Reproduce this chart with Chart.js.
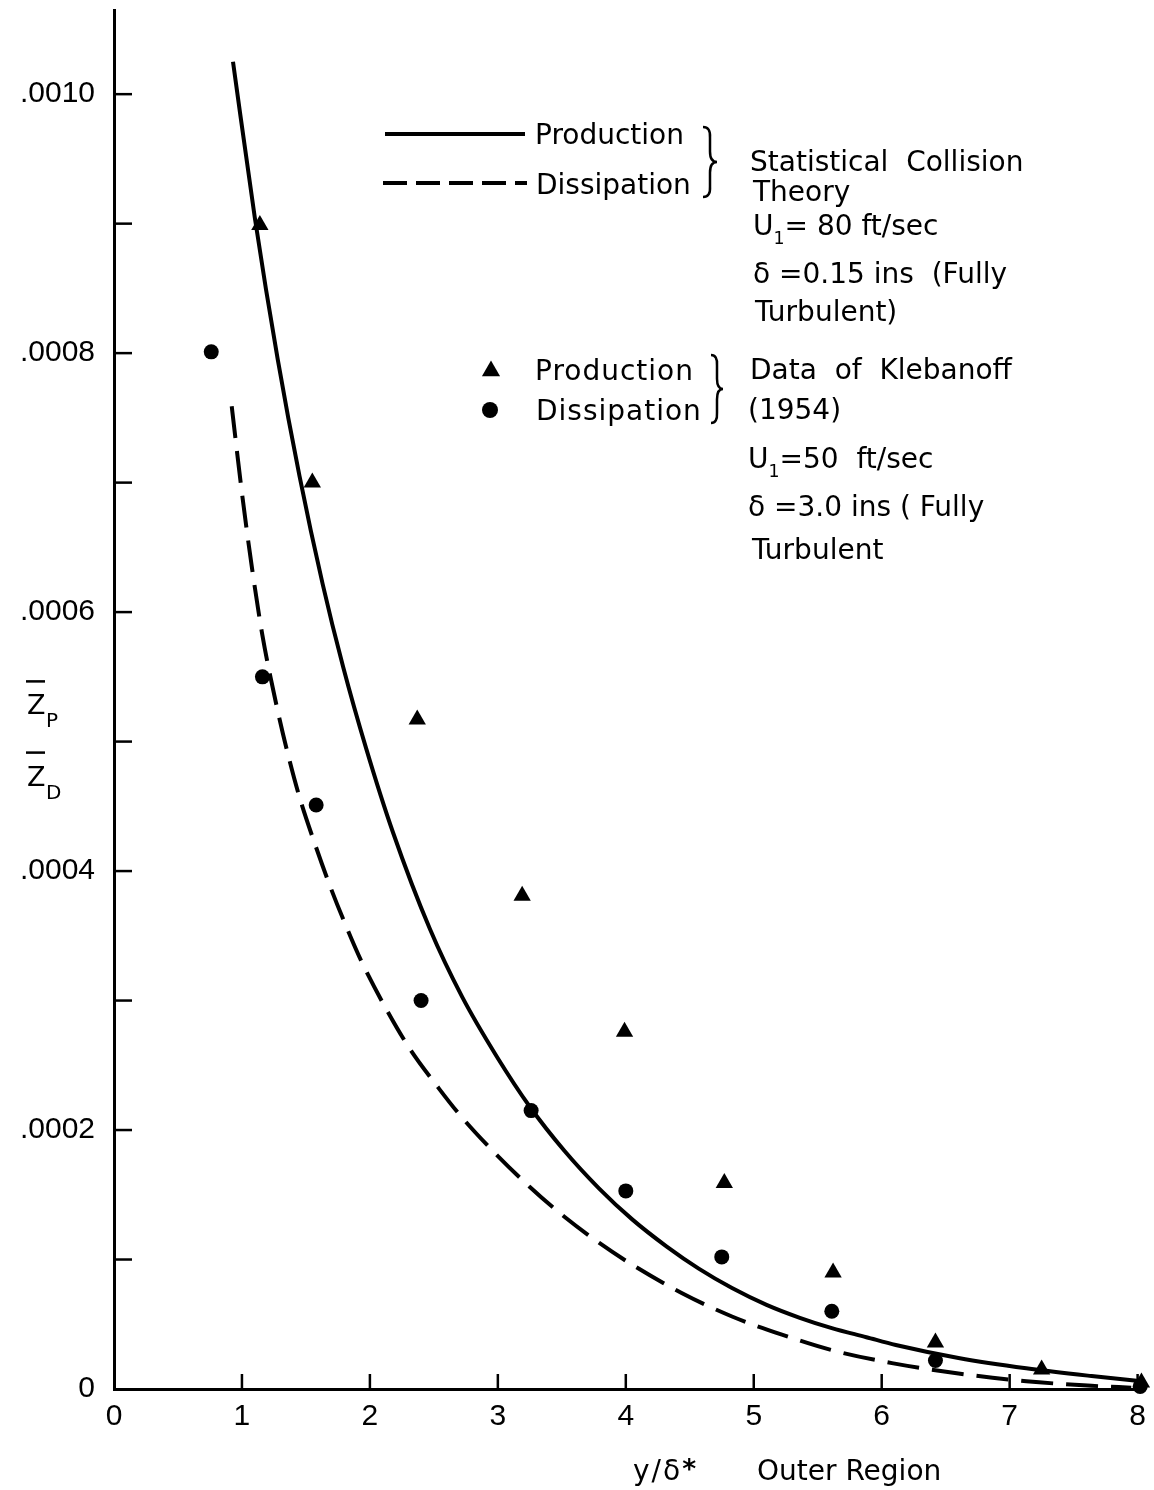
<!DOCTYPE html>
<html>
<head>
<meta charset="utf-8">
<script src="https://cdn.jsdelivr.net/npm/chart.js@4.4.1/dist/chart.umd.min.js"></script>
<style>
  html, body { margin: 0; padding: 0; background: #fff; }
  #grafico { display: block; background: #fff; }
</style>
</head>
<body>
<canvas id="grafico" width="1154" height="1490"></canvas>
<script>
// Datos de Klebanoff (1954): produccion (triangulos) y disipacion (circulos)
const prodDatosX = [1.14, 1.55, 2.37, 3.19, 3.99, 4.77, 5.62, 6.42, 7.25, 8.03];
const prodDatosY = [0.000899, 0.000700, 0.000517, 0.000381, 0.000276, 0.000159, 0.000090, 0.000036, 0.000015, 0.000005];
const disDatosX = [0.76, 1.16, 1.58, 2.40, 3.26, 4.00, 4.75, 5.61, 6.42, 8.02];
const disDatosY = [0.000801, 0.000550, 0.000451, 0.000300, 0.000215, 0.000153, 0.000102, 0.000060, 0.000022, 0.000002];

// Teoria de colisiones estadisticas: curva de produccion (continua)
const prodTeoriaX = [0.93, 1.10, 1.28, 1.45, 1.63, 1.79, 1.97, 2.18, 2.47, 2.72, 2.99, 3.25, 3.52, 3.79, 4.05, 4.32, 4.57, 4.83, 5.10, 5.36, 5.61, 5.88, 6.11, 6.60, 7.13, 7.64, 8.03];
const prodTeoriaY = [0.001025, 0.000905, 0.000795, 0.000705, 0.000622, 0.000558, 0.000495, 0.000430, 0.000355, 0.000303, 0.000257, 0.000218, 0.000184, 0.000155, 0.000131, 0.000110, 0.000093, 0.000078, 0.000065, 0.000055, 0.000047, 0.000040, 0.000034, 0.000024, 0.000016, 0.000010, 0.000006];

// Teoria: curva de disipacion (discontinua)
const disTeoriaX = [0.92, 1.00, 1.08, 1.16, 1.27, 1.36, 1.45, 1.57, 1.69, 1.82, 1.94, 2.13, 2.31, 2.54, 2.70, 2.94, 3.25, 3.52, 3.79, 4.05, 4.44, 4.83, 5.22, 5.61, 6.08, 6.60, 7.13, 7.64, 7.95];
const disTeoriaY = [0.000759, 0.000692, 0.000633, 0.000582, 0.000528, 0.000490, 0.000457, 0.000421, 0.000388, 0.000356, 0.000329, 0.000293, 0.000263, 0.000232, 0.000212, 0.000186, 0.000156, 0.000133, 0.000113, 0.000096, 0.000074, 0.000056, 0.000042, 0.000030, 0.000020, 0.000012, 0.000006, 0.0000025, 0.000001];

// Ejes
const ejeXMax = 8.05;
const ejeYMax = 0.001065;
const pasoY = 0.0001;

const TXT = '"DejaVu Sans", sans-serif';
const NUM = '"Liberation Sans", Arial, sans-serif';

function pares(xs, ys) {
  return xs.map((x, i) => ({ x: x, y: ys[i] }));
}

// Etiquetas del eje Y: solo cada .0002, con el formato ".0010"
function etiquetaY(valor) {
  const n = Math.round(valor * 10000);
  if (n === 0) return '0';
  if (n % 2 !== 0) return '';
  return '.' + String(n).padStart(4, '0');
}

// Llave "}" dibujada con curvas
function llave(ctx, x, arriba, abajo, ancho) {
  const medio = (arriba + abajo) / 2;
  const h1 = medio - arriba;
  ctx.beginPath();
  ctx.moveTo(x, arriba);
  ctx.quadraticCurveTo(x + ancho * 0.55, arriba, x + ancho * 0.5, arriba + h1 * 0.3);
  ctx.lineTo(x + ancho * 0.5, medio - h1 * 0.3);
  ctx.quadraticCurveTo(x + ancho * 0.5, medio, x + ancho, medio);
  ctx.quadraticCurveTo(x + ancho * 0.5, medio, x + ancho * 0.5, medio + h1 * 0.3);
  ctx.lineTo(x + ancho * 0.5, abajo - h1 * 0.3);
  ctx.quadraticCurveTo(x + ancho * 0.55, abajo, x, abajo);
  ctx.stroke();
}

// Texto con partes normales, subindices y superindices
function escribir(ctx, partes, x, y, tam, espaciado) {
  let cx = x;
  ctx.letterSpacing = (espaciado || 0) + 'px';
  partes.forEach(p => {
    const [t, tipo] = Array.isArray(p) ? p : [p, ''];
    let dy = 0;
    let size = tam;
    let peso = '';
    if (tipo === 'sub') { size = tam * 0.62; dy = 9; }
    if (tipo === 'sup') { size = tam * 0.95; dy = -2; peso = 'bold '; }
    ctx.font = peso + size + 'px ' + TXT;
    ctx.fillText(t, cx, y + dy);
    cx += ctx.measureText(t).width;
  });
  ctx.letterSpacing = '0px';
}

const anotaciones = {
  id: 'anotaciones',
  afterDraw(chart) {
    const { ctx, chartArea: a, scales: { x, y } } = chart;
    ctx.save();
    ctx.strokeStyle = '#000';
    ctx.fillStyle = '#000';
    ctx.lineCap = 'butt';

    // marcas de division hacia dentro
    ctx.lineWidth = 2.5;
    y.ticks.forEach(t => {
      if (t.value <= 0) return;
      const py = y.getPixelForValue(t.value);
      ctx.beginPath(); ctx.moveTo(a.left, py); ctx.lineTo(a.left + 18, py); ctx.stroke();
    });
    x.ticks.forEach(t => {
      if (t.value <= 0) return;
      const px = x.getPixelForValue(t.value);
      ctx.beginPath(); ctx.moveTo(px, a.bottom); ctx.lineTo(px, a.bottom - 15); ctx.stroke();
    });

    // Z_P y Z_D con barra
    ctx.textBaseline = 'alphabetic';
    ctx.textAlign = 'left';
    const zx = a.left - 87;
    [['P', 0.000521], ['D', 0.000466]].forEach(([sub, v]) => {
      const base = y.getPixelForValue(v);
      ctx.font = '27px ' + TXT;
      ctx.fillText('Z', zx, base);
      ctx.lineWidth = 2.5;
      ctx.beginPath(); ctx.moveTo(zx - 1, base - 33); ctx.lineTo(zx + 18, base - 33); ctx.stroke();
      ctx.font = '20px ' + TXT;
      ctx.fillText(sub, zx + 19, base + 13);
    });

    // leyenda de las curvas teoricas
    ctx.lineWidth = 4;
    ctx.beginPath(); ctx.moveTo(385, 134); ctx.lineTo(525, 134); ctx.stroke();
    ctx.setLineDash([24, 9]);
    ctx.beginPath(); ctx.moveTo(383, 183); ctx.lineTo(527, 183); ctx.stroke();
    ctx.setLineDash([]);
    escribir(ctx, ['Production'], 535, 144, 28);
    escribir(ctx, ['Dissipation'], 536, 194, 28);
    ctx.lineWidth = 2.5;
    llave(ctx, 703, 127, 197, 14);

    // leyenda de los datos
    const tx = 491, ty = 371, r = 10.5;
    ctx.beginPath();
    ctx.moveTo(tx, ty - r);
    ctx.lineTo(tx + r * 0.866, ty + r * 0.5);
    ctx.lineTo(tx - r * 0.866, ty + r * 0.5);
    ctx.closePath(); ctx.fill();
    ctx.beginPath(); ctx.arc(490, 410, 8, 0, Math.PI * 2); ctx.fill();
    escribir(ctx, ['Production'], 535, 380, 28, 1);
    escribir(ctx, ['Dissipation'], 536, 420, 28, 1);
    llave(ctx, 711, 355, 423, 12);

    // bloque de texto a la derecha
    const lineas = [
      [['Statistical  Collision'], 750, 171],
      [['Theory'], 753, 201],
      [['U', ['1', 'sub'], '= 80 ft/sec'], 753, 235],
      [['\u03b4 =0.15 ins  (Fully'], 753, 283],
      [['Turbulent)'], 755, 321],
      [['Data  of  Klebanoff'], 750, 379],
      [['(1954)'], 748, 419],
      [['U', ['1', 'sub'], '=50  ft/sec'], 748, 468],
      [['\u03b4 =3.0 ins ( Fully'], 748, 516],
      [['Turbulent'], 752, 559]
    ];
    lineas.forEach(([partes, lx, ly]) => escribir(ctx, partes, lx, ly, 28));

    // titulo del eje X
    escribir(ctx, ['y/\u03b4', ['*', 'sup']], 633, 1480, 28, 2);
    escribir(ctx, ['Outer Region'], 757, 1480, 28);

    ctx.restore();
  }
};

const ctx = document.getElementById('grafico').getContext('2d');
const grafico = new Chart(ctx, {
  type: 'scatter',
  data: {
    datasets: [
      {
        label: 'Production (Klebanoff)',
        data: pares(prodDatosX, prodDatosY),
        pointStyle: 'triangle',
        pointRadius: 10,
        backgroundColor: '#000',
        borderColor: '#000',
        borderWidth: 0,
        clip: false
      },
      {
        label: 'Dissipation (Klebanoff)',
        data: pares(disDatosX, disDatosY),
        pointStyle: 'circle',
        pointRadius: 7.5,
        backgroundColor: '#000',
        borderColor: '#000',
        borderWidth: 0,
        clip: false
      },
      {
        label: 'Production',
        data: pares(prodTeoriaX, prodTeoriaY),
        showLine: true,
        pointRadius: 0,
        borderColor: '#000',
        borderWidth: 4,
        cubicInterpolationMode: 'monotone',
        fill: false
      },
      {
        label: 'Dissipation',
        data: pares(disTeoriaX, disTeoriaY),
        showLine: true,
        pointRadius: 0,
        borderColor: '#000',
        borderWidth: 4,
        borderDash: [32, 13],
        cubicInterpolationMode: 'monotone',
        fill: false
      }
    ]
  },
  options: {
    responsive: false,
    animation: false,
    layout: { padding: { top: 10, right: 9, left: 0, bottom: 0 } },
    plugins: {
      legend: { display: false },
      tooltip: { enabled: false }
    },
    scales: {
      x: {
        type: 'linear',
        min: 0,
        max: ejeXMax,
        grid: { display: false, drawTicks: false },
        border: { display: true, color: '#000', width: 3 },
        ticks: {
          stepSize: 1,
          includeBounds: false,
          padding: 10,
          color: '#000',
          maxRotation: 0,
          autoSkip: false,
          font: { family: NUM, size: 30 }
        },
        afterFit: s => { s.height = 101; s.paddingLeft = 0; s.paddingRight = 0; }
      },
      y: {
        type: 'linear',
        min: 0,
        max: ejeYMax,
        grid: { display: false, drawTicks: false },
        border: { display: true, color: '#000', width: 3 },
        ticks: {
          stepSize: pasoY,
          includeBounds: false,
          padding: 19,
          color: '#000',
          autoSkip: false,
          font: { family: NUM, size: 30 },
          callback: etiquetaY
        },
        afterFit: s => { s.width = 114; s.paddingTop = 0; s.paddingBottom = 0; }
      }
    }
  },
  plugins: [anotaciones]
});
</script>
</body>
</html>
